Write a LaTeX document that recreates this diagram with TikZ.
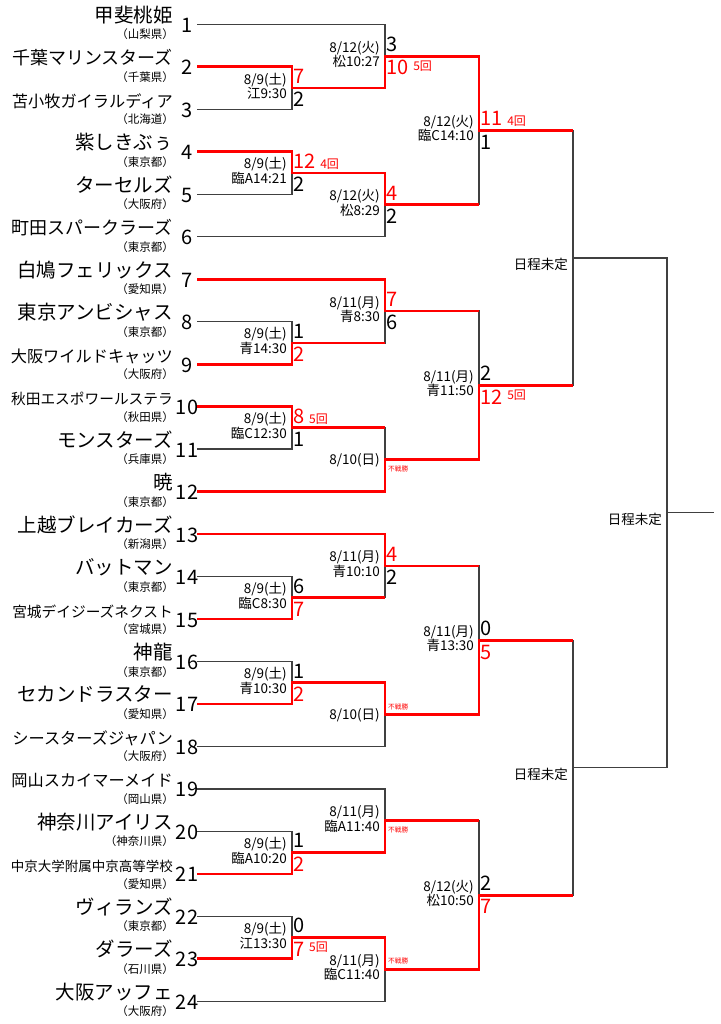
\documentclass[tikz,border=0pt]{standalone}
\usepackage{fontspec}
\setmainfont{Noto Sans CJK JP}
\usetikzlibrary{calc}

\tikzset{
	bline/.style = {draw=black!75, line width=1.3pt},
	rline/.style = {draw=red, line width=2.8pt},
	tname/.style = {anchor=base east, inner sep=0pt},
	pref/.style = {anchor=base east, inner sep=0pt, font=\fontsize{11.5}{11.5}\selectfont},
	tnum/.style = {anchor=base, inner sep=0pt, font=\fontsize{20}{20}\selectfont},
	mdate/.style = {anchor=base east, inner sep=0pt, font=\fontsize{13.5}{13.5}\selectfont},
	score/.style = {anchor=base west, inner sep=0pt, font=\fontsize{20}{20}\selectfont},
	inn/.style = {anchor=base west, inner sep=0pt, text=red, font=\fontsize{12}{12}\selectfont},
	fusen/.style = {anchor=base west, inner sep=0pt, text=red, font=\fontsize{6.7}{6.7}\selectfont},
	undec/.style = {anchor=base east, inner sep=0pt, font=\fontsize{13.5}{13.5}\selectfont},
}

\begin{document}
\begin{tikzpicture}[
					x = 1pt, y = -1pt,
					declare function = {
						ty(\k) = 24.3+42.48*(\k-1);
					}]

					\useasboundingbox (0,0) rectangle (720,1024);

					\foreach \n/\nm/\fs/\pf in {1/甲斐桃姫/19.5/山梨県, 2/千葉マリンスターズ/18/千葉県, 3/苫小牧ガイラルディア/16.2/北海道,
						4/紫しきぶぅ/19.5/東京都, 5/ターセルズ/19.5/大阪府, 6/町田スパークラーズ/18/東京都,
						7/白鳩フェリックス/19.5/愛知県, 8/東京アンビシャス/19.5/東京都, 9/大阪ワイルドキャッツ/16.2/大阪府,
						10/秋田エスポワールステラ/14.7/秋田県, 11/モンスターズ/19.5/兵庫県, 12/暁/19.5/東京都,
						13/上越ブレイカーズ/19.5/新潟県, 14/バットマン/19.5/東京都, 15/宮城デイジーズネクスト/14.7/宮城県,
						16/神龍/19.5/東京都, 17/セカンドラスター/19.5/愛知県, 18/シースターズジャパン/16.2/大阪府,
						19/岡山スカイマーメイド/16.2/岡山県, 20/神奈川アイリス/19.5/神奈川県, 21/中京大学附属中京高等学校/13.5/愛知県,
						22/ヴィランズ/19.5/東京都, 23/ダラーズ/19.5/石川県, 24/大阪アッフェ/19.5/大阪府}{
						\coordinate (t\n) at (197,{ty(\n)});
						\node[tname, font=\fontsize{\fs}{\fs}\selectfont] (nm\n) at (173,{ty(\n)-2}) {\nm};
						\node[pref] (pf\n) at (174,{ty(\n)+14.5}) {（\pf）};
						\node[tnum] (n\n) at (187,{ty(\n)+8}) {\n};
					}

					\coordinate (xa) at (292,0);
					\coordinate (xb) at (385,0);
					\coordinate (xc) at (479,0);
					\coordinate (xd) at (573,0);
					\coordinate (xf) at (667,0);
					\coordinate (xe) at (714,0);

					\foreach \m/\p/\q/\c in {a1/t2/t3/xa, a2/t4/t5/xa, a3/t8/t9/xa, a4/t10/t11/xa, a5/t14/t15/xa, a6/t16/t17/xa, a7/t20/t21/xa, a8/t22/t23/xa,
						b1/t1/a1/xb, b2/a2/t6/xb, b3/t7/a3/xb, b4/a4/t12/xb, b5/t13/a5/xb, b6/a6/t18/xb, b7/t19/a7/xb, b8/a8/t24/xb,
						c1/b1/b2/xc, c2/b3/b4/xc, c3/b5/b6/xc, c4/b7/b8/xc, d1/c1/c2/xd, d2/c3/c4/xd, f/d1/d2/xf}{
						\coordinate (mid) at ($(\p)!.5!(\q)$);
						\coordinate (\m) at (mid -| \c);
						\draw[bline] (\p) -| (\m) |- (\q);
					}
					\draw[bline] (f) -- (f -| xe);

					\draw[rline] (t2) -| (a1) -| (b1) -| (c1) -- (c1 -| xd);
					\draw[rline] (t4) -| (a2) -| (b2) -- (b2 -| xc);
					\draw[rline] (t7) -| (b3) -- (b3 -| xc);
					\draw[rline] (t9) -| (a3) -- (a3 -| xb);
					\draw[rline] (t10) -| (a4) -- (a4 -| xb);
					\draw[rline] (t12) -| (b4) -| (c2) -- (c2 -| xd);
					\draw[rline] (t13) -| (b5) -- (b5 -| xc);
					\draw[rline] (t15) -| (a5) -- (a5 -| xb);
					\draw[rline] (t17) -| (a6) -| (b6) -| (c3) -- (c3 -| xd);
					\draw[rline] (t21) -| (a7) -| (b7) -- (b7 -| xc);
					\draw[rline] (t23) -| (a8) -| (b8) -| (c4) -- (c4 -| xd);

					\foreach \m/\d/\v in {a1/{8/9(土)}/江9:30, a2/{8/9(土)}/臨A14:21, a3/{8/9(土)}/青14:30, a4/{8/9(土)}/臨C12:30,
						a5/{8/9(土)}/臨C8:30, a6/{8/9(土)}/青10:30, a7/{8/9(土)}/臨A10:20, a8/{8/9(土)}/江13:30,
						b1/{8/12(火)}/松10:27, b2/{8/12(火)}/松8:29, b3/{8/11(月)}/青8:30, b5/{8/11(月)}/青10:10,
						b7/{8/11(月)}/臨A11:40, b8/{8/11(月)}/臨C11:40,
						c1/{8/12(火)}/臨C14:10, c2/{8/11(月)}/青11:50, c3/{8/11(月)}/青13:30, c4/{8/12(火)}/松10:50}{
						\node[mdate] (dt\m) at ([xshift=-5pt,yshift=4pt]\m) {\d};
						\node[mdate] (vn\m) at ([xshift=-5pt,yshift=-10.5pt]\m) {\v};
					}
					\node[mdate] (dtb4) at ([xshift=-5pt,yshift=-5pt]b4) {8/10(日)};
					\node[mdate] (dtb6) at ([xshift=-5pt,yshift=-5pt]b6) {8/10(日)};

					\foreach \m/\s/\cs/\t/\ct in {a1/7/red/2/black, a2/12/red/2/black, a3/1/black/2/red, a4/8/red/1/black,
						a5/6/black/7/red, a6/1/black/2/red, a7/1/black/2/red, a8/0/black/7/red,
						b1/3/black/10/red, b2/4/red/2/black, b3/7/red/6/black, b5/4/red/2/black,
						c1/11/red/1/black, c2/2/black/12/red, c3/0/black/5/red, c4/2/black/7/red}{
						\node[score, text=\cs] (st\m) at ([xshift=1.5pt,yshift=4.7pt]\m) {\s};
						\node[score, text=\ct] (sb\m) at ([xshift=1.5pt,yshift=-18.8pt]\m) {\t};
					}
					\node[inn] (ia2) at ([xshift=4pt]sta2.base east) {4回};
					\node[inn] (ia4) at ([xshift=4pt]sta4.base east) {5回};
					\node[inn] (ia8) at ([xshift=4pt,yshift=4.5pt]sba8.base east) {5回};
					\node[inn] (ib1) at ([xshift=4pt,yshift=4.5pt]sbb1.base east) {5回};
					\node[inn] (ic1) at ([xshift=4pt]stc1.base east) {4回};
					\node[inn] (ic2) at ([xshift=4pt,yshift=4.5pt]sbc2.base east) {5回};

					\node[fusen] (fb4) at ([xshift=3pt,yshift=-12pt]b4) {不戦勝};
					\node[fusen] (fb6) at ([xshift=3pt,yshift=5.5pt]b6) {不戦勝};
					\node[fusen] (fb7) at ([xshift=3pt,yshift=-12pt]b7) {不戦勝};
					\node[fusen] (fb8) at ([xshift=3pt,yshift=5.5pt]b8) {不戦勝};

					\node[undec] (ud1) at ([xshift=-5pt,yshift=-12pt]d1) {日程未定};
					\node[undec] (ud2) at ([xshift=-5pt,yshift=-12pt]d2) {日程未定};
					\node[undec] (udf) at ([xshift=-5pt,yshift=-12pt]f) {日程未定};

				\end{tikzpicture}
\end{document}
